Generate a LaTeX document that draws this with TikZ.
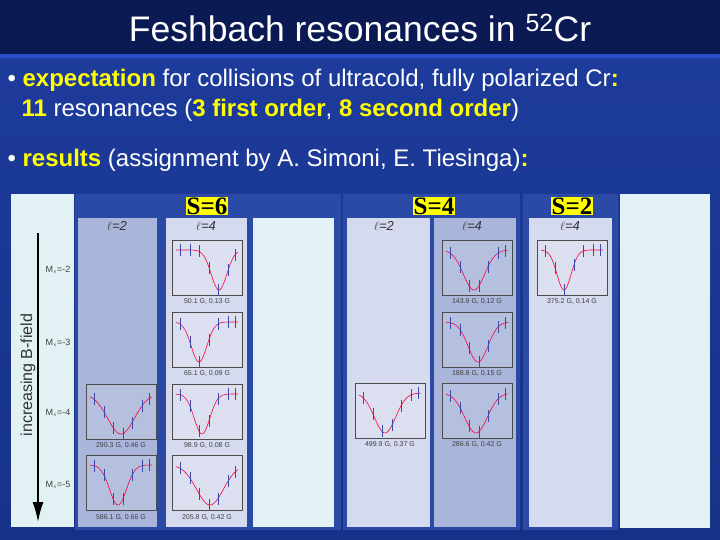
\documentclass[tikz,border=0pt]{standalone}
\usepackage{fontspec}
\usetikzlibrary{arrows.meta}
\setmainfont{Liberation Sans}
\newfontfamily\serifb{Liberation Serif}
\definecolor{navy}{HTML}{0B1A52}
\definecolor{rulec}{HTML}{2850C8}
\definecolor{bodytop}{HTML}{1E3C9E}
\definecolor{bodybot}{HTML}{163288}
\definecolor{grp}{HTML}{2A4AA6}
\definecolor{colA}{HTML}{A9B5DA}
\definecolor{colB}{HTML}{D5DAEE}
\definecolor{colC}{HTML}{E2F1F4}
\definecolor{kw}{HTML}{FFFF00}
\definecolor{ebar}{HTML}{3A4AA8}
\tikzset{
  slabel/.style={fill=kw,inner sep=1pt,font=\serifb\bfseries\fontsize{25}{25}\selectfont,text=black},
  ltext/.style={font=\itshape\fontsize{13}{13}\selectfont,text=black!80},
  plotcap/.style={font=\fontsize{7}{7}\selectfont,text=black!75},
  mslabel/.style={font=\fontsize{9}{9}\selectfont,text=black!75},
  bullet/.style={anchor=west,text=white,font=\fontsize{24}{26}\selectfont},
}
\newcommand{\rplot}[5]{% x y caption center width
  \begin{scope}[shift={(#1,#2)}]
    \draw[black!70,line width=0.5pt,fill=white,fill opacity=0.15] (0,0) rectangle (70,55);
    \draw[red!75!magenta,line width=0.6pt] plot[domain=4:66,samples=50,smooth] (\x,{10+40*exp(-((\x-#4)/#5)^2)});
    \foreach \xx in {8,18,27,37,46,56,63}{
      \pgfmathsetmacro\yy{10+40*exp(-((\xx-#4)/#5)^2)}
      \draw[ebar,line width=0.7pt] (\xx,\yy-6) -- (\xx,\yy+6);
    }
    \node[plotcap] at (35,62) {#3};
  \end{scope}}
\begin{document}
\begin{tikzpicture}[x=1pt,y=-1pt]
\useasboundingbox (0,0) rectangle (720,540);
\shade[top color=bodytop,bottom color=bodybot] (0,0) rectangle (720,540);
\fill[navy] (0,0) rectangle (720,54);
\fill[rulec] (0,54) rectangle (720,58);
\node[text=white,font=\fontsize{35.5}{36}\selectfont] (title) at (360,28) {Feshbach resonances in \textsuperscript{52}Cr};
\node[bullet] (b1) at (4,80) {• \textbf{\color{kw}expectation} for collisions of ultracold, fully polarized Cr\textbf{\color{kw}:}};
\node[bullet] (b2) at (18,110) {\textbf{\color{kw}11} resonances (\textbf{\color{kw}3 first order}, \textbf{\color{kw}8 second order})};
\node[bullet] (b3) at (4,160) {• \textbf{\color{kw}results} (assignment by A. Simoni, E. Tiesinga)\textbf{\color{kw}:}};
% panels
\fill[colC] (11,194) rectangle (74,527);
\fill[grp] (75,194) rectangle (341,530);
\fill[grp] (343,194) rectangle (520,530);
\fill[grp] (523,194) rectangle (618,530);
\fill[colC] (620,194) rectangle (710,528);
\fill[colA] (78,218) rectangle (157,527);
\fill[colB] (166,218) rectangle (247,527);
\fill[colC] (253,218) rectangle (334,527);
\fill[colB] (347,218) rectangle (430,527);
\fill[colA] (434,218) rectangle (516,527);
\fill[colB] (529,218) rectangle (612,527);
\node[slabel] (s6) at (207,206) {S=6};
\node[slabel] (s4) at (434,206) {S=4};
\node[slabel] (s2) at (572,206) {S=2};
\node[ltext] (l1) at (117,226) {$\ell$=2};
\node[ltext] (l2) at (206,226) {$\ell$=4};
\node[ltext] (l3) at (384,226) {$\ell$=2};
\node[ltext] (l4) at (472,226) {$\ell$=4};
\node[ltext] (l5) at (570,226) {$\ell$=4};
% arrow
\coordinate (at) at (38,233);
\coordinate (ab) at (38,522);
\draw[line width=1.6pt,-{Latex[length=20pt,width=11pt]}] (at) -- (ab);
\node[rotate=90,font=\fontsize{16}{16}\selectfont,text=black!80] (bf) at (28,375) {increasing B-field};
\node[mslabel] (m2) at (58,270) {M$_s$=-2};
\node[mslabel] (m3) at (58,343) {M$_s$=-3};
\node[mslabel] (m4) at (58,413) {M$_s$=-4};
\node[mslabel] (m5) at (58,485) {M$_s$=-5};
% plots
\rplot{172}{240}{50.1 G, 0.13 G}{47}{11}
\rplot{172}{312}{65.1 G, 0.09 G}{27}{11}
\rplot{172}{384}{98.9 G, 0.08 G}{30}{11}
\rplot{172}{455}{205.8 G, 0.42 G}{38}{19}
\rplot{86}{384}{290.3 G, 0.46 G}{35}{19}
\rplot{86}{455}{586.1 G, 0.66 G}{32}{12}
\rplot{355}{383}{499.9 G, 0.37 G}{30}{15}
\rplot{442}{240}{143.9 G, 0.12 G}{32}{15}
\rplot{442}{312}{188.8 G, 0.15 G}{36}{14}
\rplot{442}{383}{286.6 G, 0.42 G}{34}{16}
\rplot{537}{240}{375.2 G, 0.14 G}{27}{10}
\end{tikzpicture}
\end{document}
